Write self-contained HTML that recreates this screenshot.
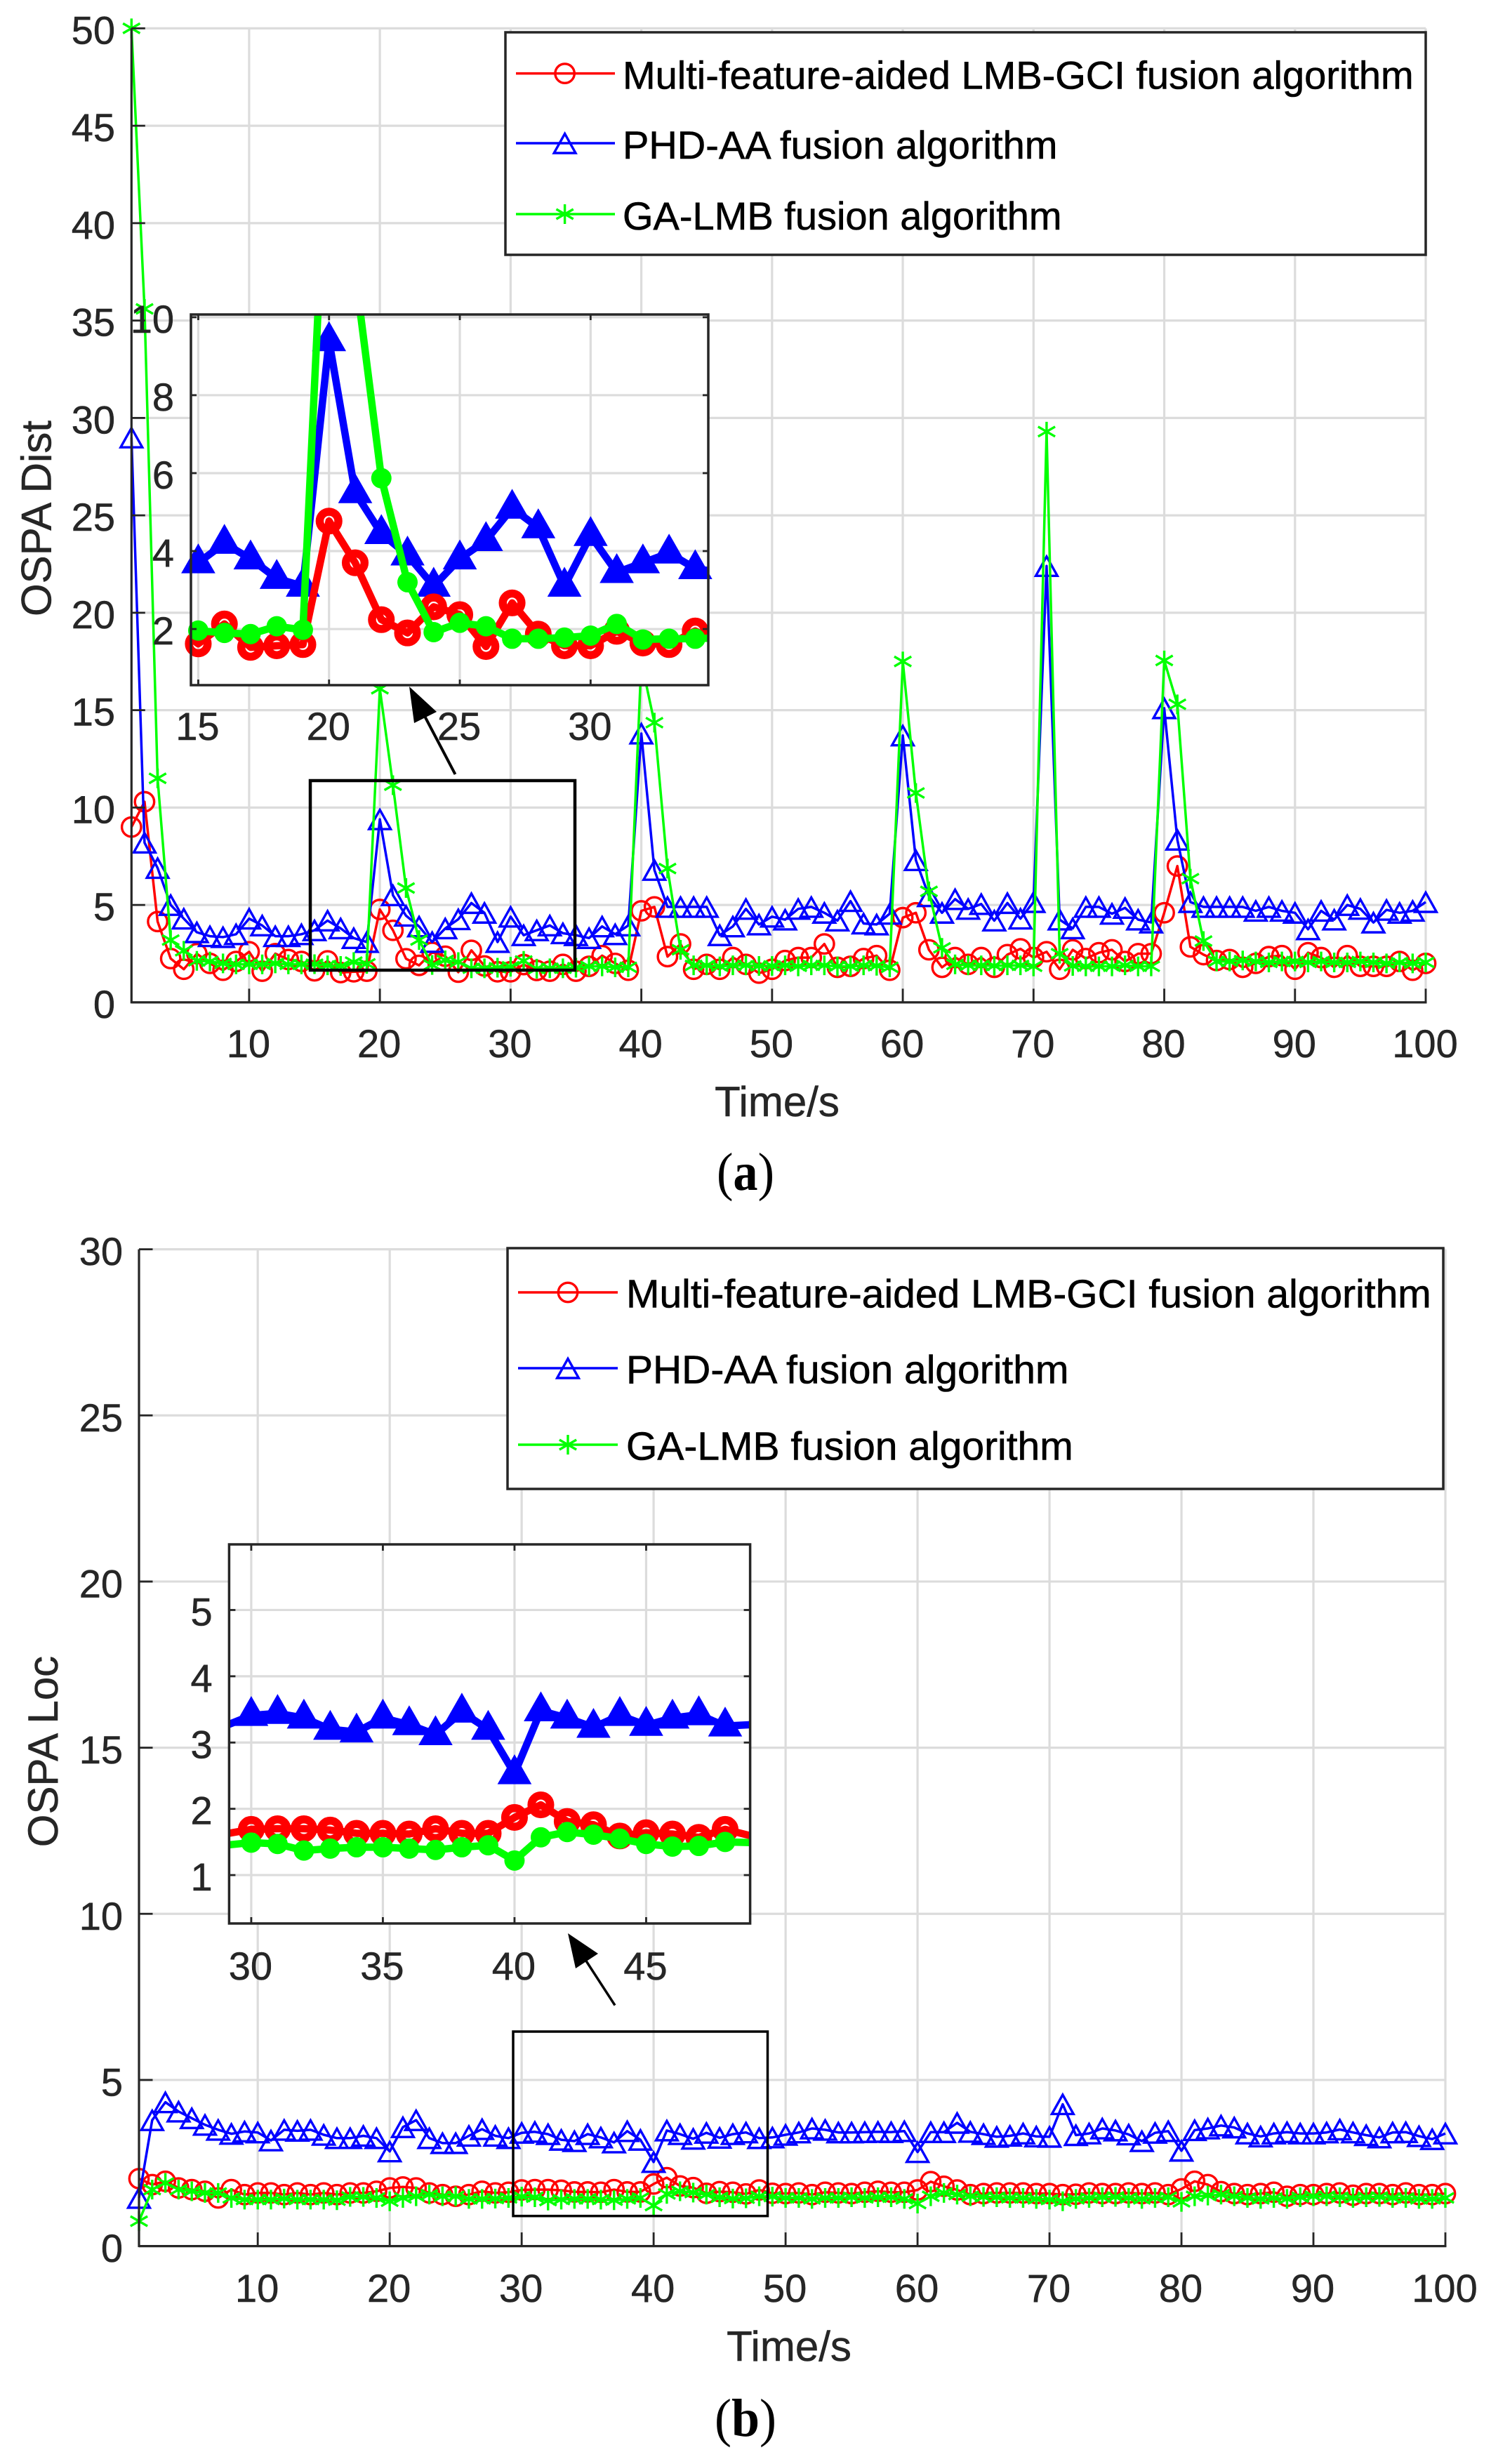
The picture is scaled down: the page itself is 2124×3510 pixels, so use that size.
<!DOCTYPE html>
<html lang="en">
<head>
<meta charset="utf-8">
<title>OSPA Dist and OSPA Loc comparison</title>
<style>
html,body{margin:0;padding:0;background:#fff;}
svg{display:block;}
text{font-family:"Liberation Sans",Arial,sans-serif;stroke:#262626;stroke-width:.5px;}
.legend-text{stroke:#000;stroke-width:.6px;}
.caption{font-family:"Liberation Serif","Times New Roman",serif;font-size:76px;fill:#000;stroke:none;}
</style>
</head>
<body>
<svg xmlns="http://www.w3.org/2000/svg" width="2124" height="3510" viewBox="0 0 2124 3510">
  <defs>
    <clipPath id="clip-inset-a"><rect x="272" y="448" width="737" height="528"/></clipPath>
    <clipPath id="clip-inset-b"><rect x="326.4" y="2200" width="742.2" height="540"/></clipPath>
  </defs>

  <g id="chart-a">
    <g id="a-main"></g>
    <rect x="442" y="1112" width="377" height="270" fill="none" stroke="#000" stroke-width="4.5"/>
    <g id="a-inset"></g>
    <g>
      <line x1="648.5" y1="1103" x2="597" y2="1005" stroke="#000" stroke-width="4"/>
      <polygon points="583,978 590,1030 622,1014" fill="#000"/>
    </g>
    <text transform="translate(72.5,738.5) rotate(-90)" text-anchor="middle" font-size="60" fill="#262626">OSPA Dist</text>
    <text x="1107" y="1590" text-anchor="middle" font-size="60" fill="#262626">Time/s</text>
    <g>
      <rect x="720" y="46" width="1311" height="317" fill="#fff" stroke="#262626" stroke-width="3.5"/>
      <g id="a-legend-keys"></g>
      <text class="legend-text" x="887" y="126.5" font-size="56" fill="#000">Multi-feature-aided LMB-GCI fusion algorithm</text>
      <text class="legend-text" x="887" y="226" font-size="56" fill="#000">PHD-AA fusion algorithm</text>
      <text class="legend-text" x="887" y="327" font-size="56" fill="#000">GA-LMB fusion algorithm</text>
    </g>
    <text class="caption" x="1062" y="1695" text-anchor="middle" textLength="82" lengthAdjust="spacingAndGlyphs">(<tspan font-weight="bold">a</tspan>)</text>
  </g>

  <g id="chart-b">
    <g id="b-main"></g>
    <rect x="731" y="2894" width="362.5" height="262.7" fill="none" stroke="#000" stroke-width="3.5"/>
    <g id="b-inset"></g>
    <g>
      <line x1="876" y1="2856.6" x2="825" y2="2778" stroke="#000" stroke-width="3.5"/>
      <polygon points="809,2754 820,2804 852,2783" fill="#000"/>
    </g>
    <text transform="translate(82,2495) rotate(-90)" text-anchor="middle" font-size="60" fill="#262626">OSPA Loc</text>
    <text x="1124" y="3363" text-anchor="middle" font-size="60" fill="#262626">Time/s</text>
    <g>
      <rect x="723" y="1778" width="1333" height="343" fill="#fff" stroke="#262626" stroke-width="3.5"/>
      <g id="b-legend-keys"></g>
      <text class="legend-text" x="892" y="1862.7" font-size="57" fill="#000">Multi-feature-aided LMB-GCI fusion algorithm</text>
      <text class="legend-text" x="892" y="1970.7" font-size="57" fill="#000">PHD-AA fusion algorithm</text>
      <text class="legend-text" x="892" y="2079.7" font-size="57" fill="#000">GA-LMB fusion algorithm</text>
    </g>
    <text class="caption" x="1062" y="3470" text-anchor="middle" textLength="88" lengthAdjust="spacingAndGlyphs">(<tspan font-weight="bold">b</tspan>)</text>
  </g>
</svg>

<script>
// ---------- chart data ----------
const timeSteps = Array.from({length: 100}, (_, i) => i + 1);

const distMultiFeature = [
  9.0,10.3,4.15,2.25,1.7,2.5,2.0,1.65,2.1,2.6,
  1.6,2.5,2.2,2.1,1.62,2.13,1.53,1.57,1.6,4.77,
  3.7,2.24,1.9,2.57,2.37,1.55,2.67,1.87,1.57,1.57,
  1.94,1.64,1.6,1.95,1.6,1.85,2.4,2.0,1.65,4.7,
  4.9,2.35,3.0,1.7,1.95,1.7,2.3,1.95,1.5,1.7,
  2.15,2.3,2.3,3.0,1.8,1.85,2.25,2.4,1.65,4.35,
  4.6,2.7,1.8,2.3,1.95,2.3,1.8,2.45,2.75,2.3,
  2.6,1.7,2.7,2.25,2.55,2.7,2.1,2.5,2.5,4.6,
  7.0,2.85,2.45,2.15,2.2,1.8,2.0,2.35,2.4,1.7,
  2.55,2.3,1.8,2.4,1.85,1.85,1.85,2.1,1.65,2.0
];
const distPhdAa = [
  29,8.2,6.9,5.0,4.3,3.6,3.4,3.35,3.5,4.3,
  3.95,3.4,3.4,3.5,3.7,4.2,3.8,3.3,3.1,9.4,
  5.5,4.45,3.9,3.1,3.8,4.27,5.1,4.6,3.1,4.4,
  3.45,3.7,3.95,3.55,3.45,3.3,3.9,3.5,3.95,13.8,
  6.8,4.9,4.9,4.9,4.9,3.45,3.9,4.8,4.0,4.4,
  4.25,4.8,4.9,4.6,4.2,5.2,4.05,4.0,4.55,13.7,
  7.3,5.45,4.6,5.3,4.8,5.05,4.2,5.1,4.3,5.15,
  22.4,4.25,3.8,4.9,4.9,4.55,4.85,4.25,4.1,15.1,
  8.35,5.15,4.9,4.9,4.9,4.9,4.7,4.9,4.7,4.6,
  3.75,4.7,4.25,5.0,4.8,4.1,4.75,4.6,4.7,5.15
];
const distGaLmb = [
  50,35.6,11.5,3.2,2.65,2.13,2.1,2.0,1.95,1.95,
  1.95,2.0,1.95,1.95,1.96,1.9,1.87,2.07,1.98,16.1,
  11.15,5.87,3.2,1.92,2.16,2.07,1.75,1.75,1.78,1.83,
  2.13,1.73,1.75,1.75,1.78,1.85,1.85,1.8,1.8,17.5,
  14.36,6.87,2.7,1.9,1.9,1.85,1.9,1.9,1.87,1.87,
  1.9,1.85,1.9,1.9,1.85,1.85,1.9,1.88,1.8,17.5,
  10.75,5.7,2.8,1.95,1.9,1.9,1.88,1.9,1.9,1.85,
  29.3,2.5,1.87,1.85,1.85,1.85,1.9,1.85,1.85,17.55,
  15.3,6.35,3.15,2.1,2.1,2.15,2.1,2.05,2.1,2.1,
  2.05,2.1,2.05,2.05,2.1,2.05,2.0,2.05,2.0,2.05
];

const locMultiFeature = [
  2.03,1.85,1.95,1.75,1.7,1.65,1.45,1.7,1.55,1.6,
  1.6,1.55,1.6,1.55,1.6,1.55,1.6,1.6,1.65,1.75,
  1.78,1.75,1.6,1.55,1.5,1.55,1.65,1.6,1.62,1.69,
  1.7,1.7,1.68,1.63,1.63,1.62,1.7,1.63,1.63,1.87,
  2.06,1.81,1.76,1.59,1.64,1.62,1.57,1.69,1.59,1.58,
  1.6,1.55,1.62,1.6,1.58,1.62,1.65,1.62,1.62,1.69,
  1.94,1.8,1.69,1.55,1.58,1.6,1.6,1.6,1.58,1.58,
  1.55,1.56,1.6,1.58,1.58,1.6,1.58,1.6,1.55,1.72,
  1.95,1.85,1.64,1.58,1.55,1.58,1.62,1.5,1.55,1.55,
  1.58,1.6,1.53,1.58,1.58,1.55,1.6,1.55,1.55,1.58
];
const locPhdAa = [
  1.45,3.79,4.33,4.05,3.85,3.65,3.5,3.38,3.45,3.42,
  3.18,3.5,3.47,3.5,3.35,3.25,3.25,3.32,3.25,2.85,
  3.58,3.79,3.25,3.1,3.1,3.32,3.52,3.32,3.25,3.41,
  3.44,3.37,3.2,3.16,3.37,3.27,3.12,3.46,3.2,2.53,
  3.48,3.37,3.23,3.41,3.26,3.37,3.42,3.25,3.27,3.35,
  3.42,3.54,3.5,3.42,3.42,3.43,3.44,3.43,3.46,2.83,
  3.43,3.43,3.71,3.44,3.37,3.29,3.32,3.39,3.3,3.29,
  4.27,3.34,3.39,3.54,3.48,3.36,3.16,3.41,3.46,2.87,
  3.49,3.54,3.63,3.57,3.39,3.3,3.39,3.43,3.39,3.39,
  3.42,3.51,3.42,3.34,3.27,3.42,3.43,3.31,3.22,3.39
];
const locGaLmb = [
  0.75,1.7,1.9,1.7,1.65,1.6,1.6,1.45,1.4,1.4,
  1.4,1.43,1.4,1.4,1.4,1.38,1.48,1.48,1.45,1.35,
  1.45,1.5,1.55,1.5,1.5,1.42,1.42,1.43,1.45,1.49,
  1.47,1.37,1.4,1.42,1.42,1.4,1.38,1.42,1.45,1.22,
  1.57,1.65,1.61,1.55,1.47,1.43,1.44,1.5,1.49,1.45,
  1.45,1.42,1.45,1.45,1.47,1.45,1.47,1.47,1.42,1.28,
  1.5,1.6,1.55,1.5,1.48,1.47,1.45,1.45,1.42,1.4,
  1.35,1.42,1.45,1.47,1.48,1.45,1.42,1.45,1.47,1.33,
  1.5,1.52,1.55,1.5,1.45,1.42,1.45,1.42,1.47,1.5,
  1.5,1.47,1.45,1.47,1.48,1.45,1.45,1.42,1.42,1.45
];

const mainXTicks = [10,20,30,40,50,60,70,80,90,100];
const distYTicks = [0,5,10,15,20,25,30,35,40,45,50];
const locYTicks = [0,5,10,15,20,25,30];
const distInsetXTicks = [15,20,25,30];
const distInsetYTicks = [2,4,6,8,10];
const locInsetXTicks = [30,35,40,45];
const locInsetYTicks = [1,2,3,4,5];

// ---------- layout ----------
const frameDist = {left:187.3, right:2031, top:40.4, bottom:1427.9, xMin:1, xMax:100, yMin:0, yMax:50,
  yLabelX:164, xLabelY:1506, fontSize:56, labelDy:22, tickLen:19.5};
const frameLoc = {left:198, right:2059, top:1779.6, bottom:3199.6, xMin:1, xMax:100, yMin:0, yMax:30,
  yLabelX:175, xLabelY:3279, fontSize:56, labelDy:22.5, tickLen:19.5};
const frameDistInset = {left:272, right:1009, top:448, bottom:976, xMin:14.72, xMax:34.5, yMin:0.56, yMax:10.07,
  yLabelX:248, xLabelY:1054, fontSize:56, labelDy:22, tickLen:8, clip:'clip-inset-a'};
const frameLocInset = {left:326.4, right:1068.6, top:2200, bottom:2740, xMin:29.16, xMax:48.95, yMin:0.27, yMax:5.99,
  yLabelX:302.7, xLabelY:2820, fontSize:56, labelDy:22, tickLen:9, clip:'clip-inset-b'};

const thinStyle = {line:3.5, stroke:3.4, r:13.7, triW:15.4, triUp:13.5, triDown:14, star:14};
const thickStyle = {line:10.5, stroke:11.5, triStroke:12, r:13.3, triW:14, triUp:15.5, triDown:9, disc:14.5};

const NS = 'http://www.w3.org/2000/svg';
function make(tag, attrs, parent) {
  const node = document.createElementNS(NS, tag);
  for (const key in attrs) node.setAttribute(key, attrs[key]);
  parent.appendChild(node);
  return node;
}
function xScale(f, v) { return f.left + (v - f.xMin) / (f.xMax - f.xMin) * (f.right - f.left); }
function yScale(f, v) { return f.bottom - (v - f.yMin) / (f.yMax - f.yMin) * (f.bottom - f.top); }

function drawGrid(f, parent, xTicks, yTicks) {
  const g = make('g', {}, parent);
  
  
  xTicks.forEach(t => {
    const l = make('line', {x1:xScale(f,t), x2:xScale(f,t), y1:f.top, y2:f.bottom, stroke:'#dcdcdc', 'stroke-width':3.2}, g);
    
    
  });
  yTicks.forEach(t => {
    const l = make('line', {x1:f.left, x2:f.right, y1:yScale(f,t), y2:yScale(f,t), stroke:'#dcdcdc', 'stroke-width':3.2}, g);
    
    
  });
}

function drawFrame(f, parent, xTicks, yTicks, boxed) {
  const g = make('g', {}, parent);
  
  
  const dark = '#262626';
  if (boxed) {
    const box = make('rect', {x:f.left, y:f.top, width:f.right-f.left, height:f.bottom-f.top, fill:'none', stroke:dark, 'stroke-width':3.5}, g);
    
    
  } else {
    const ya = make('line', {x1:f.left, x2:f.left, y1:f.top, y2:f.bottom+1.5, stroke:dark, 'stroke-width':3.2}, g);
    
    
    const xa = make('line', {x1:f.left, x2:f.right+1.5, y1:f.bottom, y2:f.bottom, stroke:dark, 'stroke-width':3.2}, g);
    
    
  }
  xTicks.forEach(t => {
    const x = xScale(f, t);
    const tick = make('line', {x1:x, x2:x, y1:f.bottom, y2:f.bottom-f.tickLen, stroke:dark, 'stroke-width':2.8}, g);
    
    
    if (boxed) {
      const top = make('line', {x1:x, x2:x, y1:f.top, y2:f.top+f.tickLen, stroke:dark, 'stroke-width':2.8}, g);
      
      
    }
  });
  yTicks.forEach(t => {
    const y = yScale(f, t);
    const tick = make('line', {x1:f.left, x2:f.left+f.tickLen, y1:y, y2:y, stroke:dark, 'stroke-width':2.8}, g);
    
    
    if (boxed) {
      const right = make('line', {x1:f.right, x2:f.right-f.tickLen, y1:y, y2:y, stroke:dark, 'stroke-width':2.8}, g);
      
      
    }
  });
}

function drawLabels(f, parent, xTicks, yTicks) {
  const g = make('g', {}, parent);
  
  
  xTicks.forEach(t => {
    const lab = make('text', {x:xScale(f,t)-1, y:f.xLabelY, 'text-anchor':'middle', 'font-size':f.fontSize, fill:'#262626'}, g);
    lab.textContent = String(t);
    
    
  });
  yTicks.forEach(t => {
    const lab = make('text', {x:f.yLabelX, y:yScale(f,t)+f.labelDy, 'text-anchor':'end', 'font-size':f.fontSize, fill:'#262626'}, g);
    lab.textContent = String(t);
    
    
  });
}

function drawMarker(kind, x, y, color, s, parent) {
  if (kind === 'circle') {
    return make('circle', {cx:x, cy:y, r:s.r, fill:'none', stroke:color, 'stroke-width':s.stroke}, parent);
  }
  if (kind === 'triangle') {
    const pts = (x)+','+(y-s.triUp)+' '+(x+s.triW)+','+(y+s.triDown)+' '+(x-s.triW)+','+(y+s.triDown);
    return make('polygon', {points:pts, fill:'none', stroke:color, 'stroke-width':s.triStroke || s.stroke, 'stroke-linejoin':'miter'}, parent);
  }
  if (s.disc) {
    return make('circle', {cx:x, cy:y, r:s.disc, fill:color}, parent);
  }
  const a = s.star, b = a * 0.866, c = a * 0.5;
  const d = 'M'+x+' '+(y-a)+'L'+x+' '+(y+a)+'M'+(x-b)+' '+(y-c)+'L'+(x+b)+' '+(y+c)+'M'+(x-b)+' '+(y+c)+'L'+(x+b)+' '+(y-c);
  return make('path', {d:d, fill:'none', stroke:color, 'stroke-width':s.stroke}, parent);
}

function drawSeries(f, values, color, kind, name, s, parent) {
  const g = make('g', {}, parent);
  
  
  const pts = timeSteps.map((t, i) => xScale(f,t).toFixed(1)+','+yScale(f,values[i]).toFixed(1)).join(' ');
  const attrs = {points:pts, fill:'none', stroke:color, 'stroke-width':s.line, 'stroke-linejoin':'round'};
  if (f.clip) attrs['clip-path'] = 'url(#' + f.clip + ')';
  const poly = make('polyline', attrs, g);
  
  
  timeSteps.forEach((t, i) => {
    const v = values[i];
    if (t < f.xMin || t > f.xMax || v < f.yMin || v > f.yMax) return;
    const m = drawMarker(kind, xScale(f,t), yScale(f,v), color, s, g);
    
    
  });
}

function drawLegendKey(parent, x1, x2, xm, y, color, kind) {
  const l = make('line', {x1:x1, x2:x2, y1:y, y2:y, stroke:color, 'stroke-width':3.5}, parent);
  
  
  const m = drawMarker(kind, xm, y, color, thinStyle, parent);
  
  
}

function buildChart(frame, inset, hostMain, hostInset, data, yTicks, insetXTicks, insetYTicks) {
  drawGrid(frame, hostMain, mainXTicks, yTicks);
  drawSeries(frame, data[0], '#ff0000', 'circle', 'multi-feature', thinStyle, hostMain);
  drawSeries(frame, data[1], '#0000ff', 'triangle', 'phd-aa', thinStyle, hostMain);
  drawSeries(frame, data[2], '#00ff00', 'star', 'ga-lmb', thinStyle, hostMain);
  drawFrame(frame, hostMain, mainXTicks, yTicks, false);
  drawLabels(frame, hostMain, mainXTicks, yTicks);

  const bg = make('rect', {x:inset.left, y:inset.top, width:inset.right-inset.left, height:inset.bottom-inset.top, fill:'#fff'}, hostInset);
  
  
  drawGrid(inset, hostInset, insetXTicks, insetYTicks);
  drawSeries(inset, data[1], '#0000ff', 'triangle', 'phd-aa', thickStyle, hostInset);
  drawSeries(inset, data[0], '#ff0000', 'circle', 'multi-feature', thickStyle, hostInset);
  drawSeries(inset, data[2], '#00ff00', 'star', 'ga-lmb', thickStyle, hostInset);
  drawFrame(inset, hostInset, insetXTicks, insetYTicks, true);
  drawLabels(inset, hostInset, insetXTicks, insetYTicks);
}

buildChart(frameDist, frameDistInset, document.getElementById('a-main'), document.getElementById('a-inset'),
  [distMultiFeature, distPhdAa, distGaLmb], distYTicks, distInsetXTicks, distInsetYTicks);
buildChart(frameLoc, frameLocInset, document.getElementById('b-main'), document.getElementById('b-inset'),
  [locMultiFeature, locPhdAa, locGaLmb], locYTicks, locInsetXTicks, locInsetYTicks);

const keysA = document.getElementById('a-legend-keys');
drawLegendKey(keysA, 735, 876, 804.6, 104.6, '#ff0000', 'circle');
drawLegendKey(keysA, 735, 876, 804.6, 204, '#0000ff', 'triangle');
drawLegendKey(keysA, 735, 876, 804.6, 305, '#00ff00', 'star');
const keysB = document.getElementById('b-legend-keys');
drawLegendKey(keysB, 738, 880, 809, 1841, '#ff0000', 'circle');
drawLegendKey(keysB, 738, 880, 809, 1949, '#0000ff', 'triangle');
drawLegendKey(keysB, 738, 880, 809, 2058, '#00ff00', 'star');
</script>
</body>
</html>
